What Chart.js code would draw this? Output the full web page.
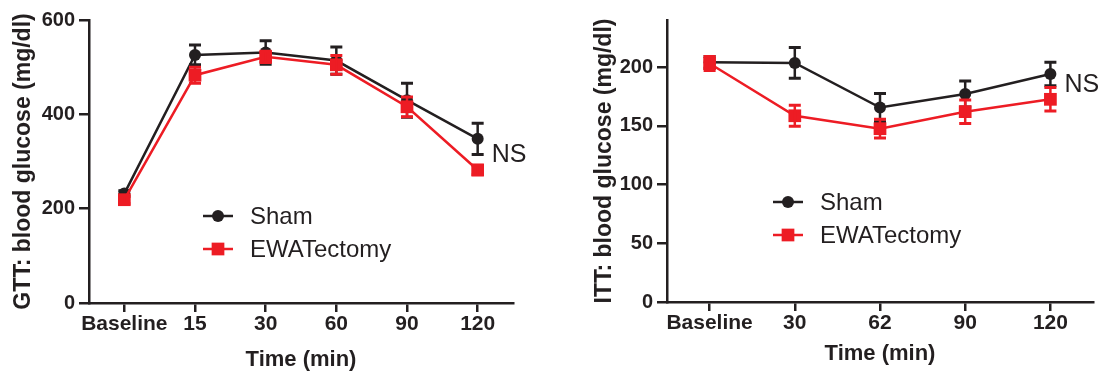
<!DOCTYPE html>
<html>
<head>
<meta charset="utf-8">
<script src="https://cdn.jsdelivr.net/npm/chart.js@4.4.1/dist/chart.umd.min.js"></script>
<style>
    body { margin: 0; background: #fff; }
    canvas { position: absolute; top: 0; }
</style>
</head>
<body>
<canvas id="gtt" width="550" height="371" style="left:0"></canvas>
<canvas id="itt" width="553" height="371" style="left:552px"></canvas>
<script>
// GTT (left)
const gttLabels = ["Baseline", "15", "30", "60", "90", "120"]
const gttSham = [232, 526, 531, 514, 430, 348]
const gttShamErr = [6, 21, 25, 29, 36, 33]
const gttEwa = [219, 483, 522, 505, 416, 282]
const gttEwaErr = [8, 17, 12, 20, 21, 10]

// ITT (right)
const ittLabels = ["Baseline", "30", "62", "90", "120"]
const ittSham = [204, 203.5, 165.5, 177, 194]
const ittShamErr = [5, 13, 12, 11, 10]
const ittEwa = [203, 158.5, 147.5, 162, 172.5]
const ittEwaErr = [6, 9, 8, 10, 10]

const ink = "#231f20"
const red = "#ed1c24"
const family = "'Liberation Sans', Arial, sans-serif"

// barres d'erreur dessinées après chaque série
const errorBars = {
    id: "errorBars",
    afterDatasetDraw(chart, args) {
        const ds = chart.data.datasets[args.index]
        if (!ds.errors) return
        const ctx = chart.ctx
        const y = chart.scales.y
        ctx.save()
        ctx.strokeStyle = ds.borderColor
        args.meta.data.forEach((pt, i) => {
            const top = y.getPixelForValue(ds.data[i] + ds.errors[i])
            const bot = y.getPixelForValue(ds.data[i] - ds.errors[i])
            ctx.lineWidth = 2.5
            ctx.beginPath()
            ctx.moveTo(pt.x, top)
            ctx.lineTo(pt.x, bot)
            ctx.stroke()
            ctx.lineWidth = 3
            ctx.beginPath()
            ctx.moveTo(pt.x - 6, top)
            ctx.lineTo(pt.x + 6, top)
            ctx.moveTo(pt.x - 6, bot)
            ctx.lineTo(pt.x + 6, bot)
            ctx.stroke()
        })
        ctx.restore()
    }
}

// légende dans la zone du graphique
const innerLegend = {
    id: "innerLegend",
    afterDraw(chart, args, opts) {
        const { ctx, chartArea } = chart
        chart.data.datasets.forEach((ds, i) => {
            const x = chartArea.left + opts.x
            const y = chartArea.top + opts.y + i * opts.gap
            ctx.save()
            ctx.strokeStyle = ds.borderColor
            ctx.lineWidth = 2.5
            ctx.beginPath()
            ctx.moveTo(x, y)
            ctx.lineTo(x + 30, y)
            ctx.stroke()
            ctx.fillStyle = ds.backgroundColor
            Chart.helpers.drawPoint(ctx, { pointStyle: ds.pointStyle, radius: ds.pointRadius, borderWidth: 0, rotation: 0 }, x + 15, y)
            ctx.fillStyle = ink
            ctx.font = "24px " + family
            ctx.textBaseline = "middle"
            ctx.textAlign = "left"
            ctx.fillText(ds.label, x + 47, y + 1)
            ctx.restore()
        })
    }
}

// texte "NS" à droite du dernier point
const nsLabel = {
    id: "nsLabel",
    afterDraw(chart, args, opts) {
        const ctx = chart.ctx
        const last = chart.data.labels.length - 1
        const x = chart.scales.x.getPixelForValue(last) + 14
        const y = chart.scales.y.getPixelForValue(opts.value)
        ctx.save()
        ctx.fillStyle = ink
        ctx.font = "25px " + family
        ctx.textBaseline = "middle"
        ctx.fillText("NS", x, y)
        ctx.restore()
    }
}

function makeChart(id, labels, sham, shamErr, ewa, ewaErr, cfg) {
    const data = {
        labels: labels,
        datasets: [{
            label: "Sham",
            data: sham,
            errors: shamErr,
            borderColor: ink,
            backgroundColor: ink,
            borderWidth: 2.5,
            pointStyle: "circle",
            pointRadius: 6,
            pointBorderWidth: 0,
            order: 2
        }, {
            label: "EWATectomy",
            data: ewa,
            errors: ewaErr,
            borderColor: red,
            backgroundColor: red,
            borderWidth: 2.5,
            pointStyle: "rect",
            pointRadius: 9,
            pointBorderWidth: 0,
            order: 1
        }]
    }
    const config = {
        type: "line",
        data: data,
        plugins: [errorBars, innerLegend, nsLabel],
        options: {
            responsive: false,
            animation: false,
            layout: { padding: { top: 20, right: cfg.padRight, left: 0, bottom: 0 } },
            plugins: {
                legend: { display: false },
                tooltip: { enabled: false },
                innerLegend: cfg.legend,
                nsLabel: { value: cfg.nsValue }
            },
            scales: {
                x: {
                    offset: true,
                    afterFit: s => { s.height = cfg.xHeight },
                    border: { color: ink, width: 2.5 },
                    grid: { offset: false, drawOnChartArea: false, drawTicks: true, tickLength: 9, color: ink, lineWidth: 2.5 },
                    ticks: { color: ink, padding: 0, maxRotation: 0, autoSkip: false, font: { family: family, size: 21, weight: "bold" } },
                    title: { display: true, text: "Time (min)", color: ink, padding: { top: 0, bottom: cfg.xTitlePad }, font: { family: family, size: 22, weight: "bold" } }
                },
                y: {
                    min: 0,
                    max: cfg.yMax,
                    afterFit: s => { s.width = cfg.yWidth },
                    afterBuildTicks: s => { s.ticks = s.ticks.filter(t => t.value <= cfg.yTop) },
                    border: { color: ink, width: 2.5 },
                    grid: { drawOnChartArea: false, drawTicks: true, tickLength: 10, color: ink, lineWidth: 2.5 },
                    ticks: { stepSize: cfg.step, color: ink, padding: 4, font: { family: family, size: 20, weight: "bold" } },
                    title: { display: true, text: cfg.yTitle, color: ink, padding: { top: cfg.yTitlePad, bottom: 0 }, font: { family: family, size: 23, weight: "bold" } }
                }
            }
        }
    }
    new Chart(document.querySelector(id), config)
}

makeChart("#gtt", gttLabels, gttSham, gttShamErr, gttEwa, gttEwaErr, {
    yMax: 600, yTop: 600, step: 200, yWidth: 89, xHeight: 68, padRight: 37,
    yTitle: "GTT: blood glucose (mg/dl)", yTitlePad: 10, xTitlePad: -2,
    legend: { x: 114, y: 196, gap: 33 }, nsValue: 314
})
makeChart("#itt", ittLabels, ittSham, ittShamErr, ittEwa, ittEwaErr, {
    yMax: 240, yTop: 200, step: 50, yWidth: 115, xHeight: 69, padRight: 12,
    yTitle: "ITT: blood glucose (mg/dl)", yTitlePad: 39, xTitlePad: 4,
    legend: { x: 106, y: 182, gap: 33 }, nsValue: 184.5
})
</script>
</body>
</html>
